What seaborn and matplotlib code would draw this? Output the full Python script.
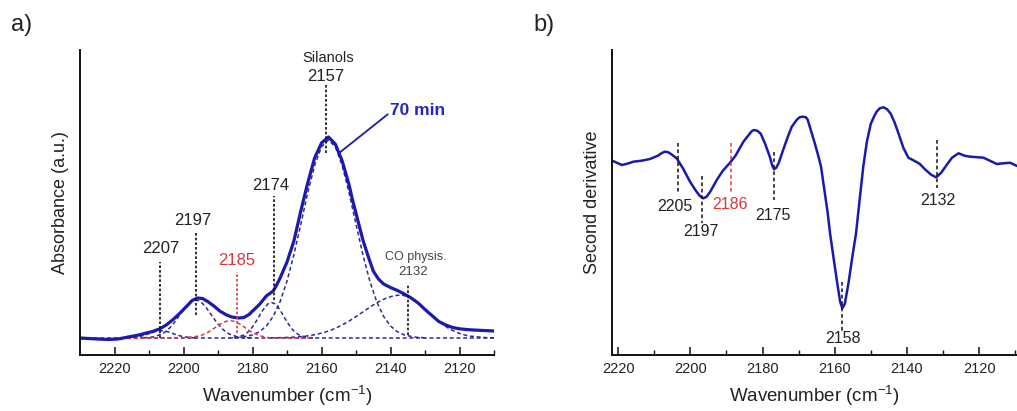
import matplotlib
matplotlib.use("Agg")
import matplotlib.pyplot as plt
import numpy as np
import pandas as pd
import seaborn as sns

# ---------------- data: panel a (absorbance, a.u.) ----------------
wn_total = [2230, 2226, 2222, 2219, 2216, 2213, 2211, 2209, 2207, 2205, 2203, 2201,
            2199, 2197.5, 2196, 2194.5, 2193, 2191, 2189.5, 2187.5, 2186, 2184, 2182.5,
            2181, 2179.5, 2178, 2176, 2174, 2173, 2172, 2170, 2168, 2166, 2164, 2162,
            2160, 2158, 2156, 2154, 2152, 2151, 2149.5, 2148, 2146.5, 2145, 2143.5,
            2142, 2140, 2138, 2136, 2134, 2132, 2130, 2128, 2126, 2124, 2122, 2120,
            2118, 2116, 2113, 2110]
abs_total = [0, -0.8, -1.5, -1.0, 1.0, 3.0, 4.8, 6.5, 9, 13, 18.5, 25,
             32, 37.5, 40, 39.5, 36.5, 31.5, 27, 23, 21, 20, 20.5,
             23.5, 28.5, 33.5, 42, 47, 53, 60, 76, 97, 127, 155, 180,
             195, 201, 194, 177, 153, 138, 118, 98, 82, 67, 59,
             54, 50.5, 47.5, 44, 40, 35, 28.5, 22.5, 16.5, 13, 10.5, 9.2,
             8.5, 8, 7.5, 7]

wn_c2207 = [2216.5, 2214.5, 2212.5, 2211.5, 2210.5, 2209.5, 2208.5, 2207.5, 2206.5,
            2205.5, 2204.5, 2203.5, 2202.5, 2201.5, 2200.5, 2198.5, 2196.5]
abs_c2207 = [0.1, 0.5, 1.7, 2.6, 3.8, 5.1, 6.2, 7.0, 7.3,
             7.0, 6.2, 5.1, 3.8, 2.6, 1.7, 0.5, 0.1]

wn_c2197 = [2212.5, 2210.5, 2208.5, 2206.5, 2205.5, 2204.5, 2203.5, 2202.5, 2201.5,
            2200.5, 2199.5, 2198.5, 2197.5, 2196.5, 2195.5, 2194.5, 2193.5, 2192.5,
            2191.5, 2190.5, 2189.5, 2188.5, 2187.5, 2186.5, 2184.5, 2182.5, 2180.5]
abs_c2197 = [0.1, 0.4, 1.3, 3.6, 5.6, 8.4, 11.9, 16.2, 21.0,
             26.0, 30.7, 34.6, 37.1, 38.0, 37.1, 34.6, 30.7, 26.0,
             21.0, 16.2, 11.9, 8.4, 5.6, 3.6, 1.3, 0.4, 0.1]

wn_c2185 = [2230, 2215, 2205, 2201.5, 2199.5, 2197.5, 2195.5, 2194.5, 2193.5, 2192.5,
            2191.5, 2190.5, 2189.5, 2188.5, 2187.5, 2186.5, 2185.5, 2184.5, 2183.5,
            2182.5, 2181.5, 2180.5, 2179.5, 2178.5, 2177.5, 2176.5, 2175.5, 2173.5,
            2171.5, 2163]
abs_c2185 = [-0.8, -0.4, 0.0, 0.07, 0.35, 1.2, 1.9, 3.1, 4.6, 6.5,
             8.8, 11.2, 13.6, 15.5, 16.8, 17.3, 16.8, 15.5, 13.6,
             11.2, 8.8, 6.5, 4.6, 3.1, 1.9, 1.2, 0.35, 0.07,
             0.0, 0.0]

wn_c2174 = [2186.5, 2184.5, 2182.5, 2181.5, 2180.5, 2179.5, 2178.5, 2177.5, 2176.5,
            2175.5, 2174.5, 2173.5, 2172.5, 2171.5, 2170.5, 2169.5, 2168.5, 2167.5,
            2166.5, 2164.5, 2162.5]
abs_c2174 = [0.1, 0.75, 3.0, 5.4, 8.8, 13.5, 19.1, 25.1, 30.4,
             34.2, 35.5, 34.2, 30.4, 25.1, 19.1, 13.5, 8.8, 5.4,
             3.0, 0.75, 0.1]

wn_c2157 = [2186, 2183, 2180, 2178, 2176, 2174, 2172, 2170, 2168, 2166, 2164, 2162,
            2160, 2158, 2156, 2154, 2152, 2150, 2148, 2146, 2144, 2142, 2140, 2138,
            2136, 2133, 2130]
abs_c2157 = [0.2, 0.9, 3.0, 6.2, 12.0, 21.6, 36.3, 56.9, 83.3, 113.8, 145.0, 172.4,
             191.3, 198, 191.3, 172.4, 145.0, 113.8, 83.3, 56.9, 36.3, 21.6, 12.0, 6.2,
             3.0, 0.9, 0.2]

wn_c2132 = [2175, 2171, 2167, 2165, 2163, 2161, 2159, 2157, 2155, 2153, 2151, 2149,
            2147, 2145, 2143, 2141, 2139, 2137, 2135, 2133, 2131, 2129, 2127, 2125,
            2123, 2121, 2119, 2117, 2113, 2110]
abs_c2132 = [0.1, 0.4, 1.0, 1.7, 2.6, 4.0, 5.8, 8.2, 11.3, 14.9, 19.1, 23.7,
             28.4, 33.0, 37.1, 40.2, 42.3, 43, 41.7, 37.9, 32.5, 26.1, 19.7, 14.0,
             9.3, 5.8, 3.4, 1.9, 0.5, 0.2]

wn_base = [2230, 2110]
abs_base = [0, 0]

# ---------------- data: panel b (second derivative, a.u.) ----------------
wn_d2 = [2222.3, 2221, 2219, 2217.5, 2215.8, 2213.5, 2211.2, 2209, 2208, 2207.1,
         2206.2, 2205.5, 2203.8, 2202, 2200.1, 2198.3, 2197.3, 2196.4, 2195.5, 2194.5,
         2192.7, 2191, 2189, 2187.5, 2185.3, 2184, 2183, 2182.4, 2181.5, 2180.5,
         2179.3, 2178, 2177.3, 2176.8, 2176.2, 2175.5, 2174.3, 2173, 2171.9, 2170.5,
         2169.7, 2168.9, 2168, 2167.5, 2166.5, 2165.5, 2164.5, 2163.8, 2163, 2162,
         2161.3, 2160.3, 2159.3, 2158.5, 2157.9, 2157.2, 2156.2, 2155.2, 2154.1, 2153.1,
         2152.1, 2151.1, 2150, 2149, 2148.4, 2147.5, 2146.5, 2145.5, 2144.5, 2143.5,
         2142.5, 2141, 2139.6, 2138, 2136.5, 2135, 2133.3, 2131.9, 2130.5, 2129,
         2127.5, 2125.7, 2124, 2122.5, 2120.5, 2118.8, 2117, 2115.1, 2113, 2111.4,
         2109.5]
d2_vals = [1.7, 0, -3.3, -2, 0, 1, 2.7, 6, 8.5, 10,
           9.5, 8, 3.4, -7, -20, -30, -34.5, -36.6, -35, -30,
           -18.3, -9, -1, 6, 20, 26, 30.5, 31.7, 31, 28,
           18, 5, -4, -7.6, -6, -1, 11.7, 25, 35, 42,
           44.5, 45, 44.5, 42, 30, 18, 5, -5, -25, -50,
           -71.6, -97, -121.6, -140, -146.6, -142, -121.6, -97, -71.6, -38,
           -5, 20, 38, 46, 50, 53.5, 54.4, 52.5, 48, 40,
           30, 14, 4, 1, -2, -7.6, -13, -15.6, -11, -3.3,
           4, 8.4, 6, 5, 4.5, 4, 1, -2.3, -1.5, -1,
           -4.3]

# ---------------- annotation texts ----------------
a_labels = ["2207", "2197", "2185", "2174", "2157"]
a_label_x = [2206.7, 2197.3, 2184.7, 2174.6, 2158.7]
a_label_y = [89.7, 118, 78, 152.3, 262]
a_line_x = [2206.7, 2196.5, 2184.6, 2173.9, 2158.8]
a_line_y0 = [0, 23, 5, 38, 185]
a_line_y1 = [76, 104.7, 66.3, 142, 253]
a_colors = ["k", "k", "red", "k", "k"]

b_labels = ["2205", "2197", "2186", "2175", "2158", "2132"]
b_label_x = [2204.3, 2197.2, 2189.0, 2177.0, 2157.6, 2131.3]
b_label_y = [-44.3, -70, -42.3, -53.3, -176.6, -38.3]
b_line_x = [2203.4, 2196.7, 2188.8, 2176.8, 2157.9, 2131.7]
b_line_y0 = [18.4, -14.3, 18.4, 10, -120, 21.7]
b_line_y1 = [-30, -61.6, -30, -38.3, -170, -26.6]
b_colors = ["k", "k", "red", "k", "k", "k"]

# ---------------- style ----------------
sns.set_style("white")
plt.rcParams["font.family"] = ["Liberation Sans", "DejaVu Sans"]
plt.rcParams["mathtext.fontset"] = "custom"
plt.rcParams["mathtext.rm"] = "Liberation Sans"
plt.rcParams["mathtext.default"] = "regular"

BLUE = "#1a1aae"
DBLUE = "#2a2a9c"
RED = "#e03a36"
TXT = "#222222"
RTXT = "#d8383a"

fig = plt.figure(figsize=(10.17, 4.11), dpi=100)
ax_a = fig.add_axes([80 / 1017, 56 / 411, 414 / 1017, 305 / 411])
ax_b = fig.add_axes([611.7 / 1017, 56 / 411, (1017 - 611.7) / 1017, 305 / 411])


def style_axes(ax, xlim, ylim, ylabel):
    ax.set_xlim(*xlim)
    ax.set_ylim(*ylim)
    for s in ["top", "right"]:
        ax.spines[s].set_visible(False)
    for s in ["left", "bottom"]:
        ax.spines[s].set_color("#111111")
        ax.spines[s].set_linewidth(1.4)
    ax.set_xticks([2220, 2200, 2180, 2160, 2140, 2120])
    ax.set_xticks([2210, 2190, 2170, 2150, 2130, 2110], minor=True)
    ax.tick_params(axis="x", which="both", bottom=True, top=False)
    ax.tick_params(axis="x", which="major", direction="in", length=6, width=1.1,
                   pad=5, labelsize=10.5, colors="#111111", labelcolor=TXT)
    ax.tick_params(axis="x", which="minor", direction="in", length=3.5, width=1.0,
                   colors="#111111")
    ax.set_yticks([])
    ax.set_xlabel("Wavenumber (cm$^{-1}$)", fontsize=13.5, color=TXT, labelpad=6)
    ax.set_ylabel(ylabel, fontsize=13, color=TXT, labelpad=8)


# ---------------- panel a ----------------
comp_sets = [(wn_c2207, abs_c2207, DBLUE), (wn_c2197, abs_c2197, DBLUE),
             (wn_c2174, abs_c2174, DBLUE), (wn_c2157, abs_c2157, DBLUE),
             (wn_c2132, abs_c2132, DBLUE), (wn_base, abs_base, DBLUE),
             (wn_c2185, abs_c2185, RED)]
for xs, ys, c in comp_sets:
    sns.lineplot(x=xs, y=ys, ax=ax_a, color=c, linewidth=1.1,
                 linestyle=(0, (2.6, 1.8)), errorbar=None)
sns.lineplot(x=wn_total, y=abs_total, ax=ax_a, color=BLUE, linewidth=2.3,
             errorbar=None, solid_joinstyle="round", solid_capstyle="round")

for lab, lx, ly, vx, y0, y1, c in zip(a_labels, a_label_x, a_label_y, a_line_x,
                                       a_line_y0, a_line_y1, a_colors):
    lc = RED if c == "red" else "#111111"
    tc = RTXT if c == "red" else TXT
    ax_a.plot([vx, vx], [y0, y1], color=lc, linewidth=1.2,
              linestyle=(0, (1.6, 1.2)))
    ax_a.text(lx, ly, lab, ha="center", va="center", fontsize=12, color=tc)

ax_a.text(2158.2, 280.3, "Silanols", ha="center", va="center", fontsize=10.5,
          color=TXT)
# CO physis.
ax_a.plot([2135, 2135], [3, 53], color="#111111", linewidth=1.2,
          linestyle=(0, (1.6, 1.2)))
ax_a.text(2132.6, 81.3, "CO physis.", ha="center", va="center", fontsize=9,
          color="#444444")
ax_a.text(2133.3, 66.3, "2132", ha="center", va="center", fontsize=9.5,
          color="#444444")
# 70 min
ax_a.plot([2155, 2140.8], [184.7, 223.7], color=BLUE, linewidth=1.3)
ax_a.text(2132.1, 228, "70 min", ha="center", va="center", fontsize=12.5,
          color="#2424c8", fontweight="bold")

style_axes(ax_a, (2230, 2110), (-17, 288), "Absorbance (a.u.)")

# ---------------- panel b ----------------
sns.lineplot(x=wn_d2, y=d2_vals, ax=ax_b, color=BLUE, linewidth=1.8,
             errorbar=None, solid_joinstyle="round", solid_capstyle="round")
for lab, lx, ly, vx, y0, y1, c in zip(b_labels, b_label_x, b_label_y, b_line_x,
                                       b_line_y0, b_line_y1, b_colors):
    lc = RED if c == "red" else "#111111"
    tc = RTXT if c == "red" else TXT
    ax_b.plot([vx, vx], [y0, y1], color=lc, linewidth=1.1,
              linestyle=(0, (2.4, 1.8)))
    ax_b.text(lx, ly, lab, ha="center", va="center", fontsize=11.5, color=tc)

style_axes(ax_b, (2221.8, 2109.5), (-193.3, 111.7), "Second derivative")

fig.text(22 / 1017, 1 - 25 / 411, "a)", fontsize=17, ha="center", va="center",
         color=TXT)
fig.text(544 / 1017, 1 - 25 / 411, "b)", fontsize=17, ha="center", va="center",
         color=TXT)

fig.savefig("out.png", dpi=100)
